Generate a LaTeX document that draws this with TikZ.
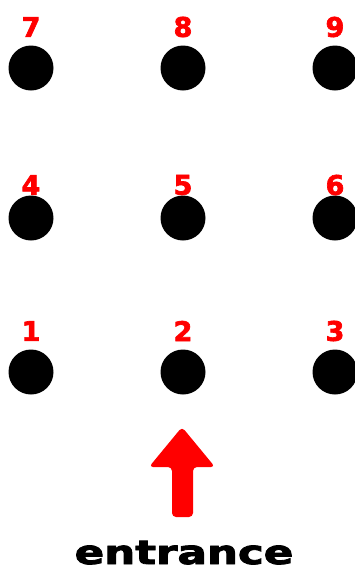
\documentclass[tikz,border=0pt]{standalone}
\usepackage{fontspec}
\newfontfamily\signfont{DejaVu Sans}[BoldFeatures={FakeBold=2.5}]
\begin{document}
\begin{tikzpicture}[x=1pt,y=-1pt,
    seat/.style={circle,fill=black,minimum size=45pt,inner sep=0pt},
    seatnum/.style={text=red,inner sep=0pt,font=\signfont\bfseries\fontsize{27}{27}\selectfont}]
    \useasboundingbox (0,0) rectangle (355,571);
    % seats with their numbers
    \foreach \n/\x/\y/\ly in {7/31/68/27,8/183/68/27,9/335/68/27,
                              4/31/218/185,5/183/218/185,6/335/218/185,
                              1/31/372/331,2/183/372/331,3/335/372/331}{
        \node[seat] (s\n) at (\x,\y) {};
        \node[seatnum] (n\n) at (\x,\ly) {\n};
    }
    % way in
    \fill[red,rounded corners=4pt]
        (172,517) -- (172,467) -- (149,467) -- (182,427) -- (215,467)
        -- (193,467) -- (193,517) -- cycle;
    \node[anchor=base,inner sep=0pt,xscale=1.32,font=\signfont\bfseries\fontsize{33}{33}\selectfont]
        (entrance) at (184,564) {entrance};
\end{tikzpicture}
\end{document}
